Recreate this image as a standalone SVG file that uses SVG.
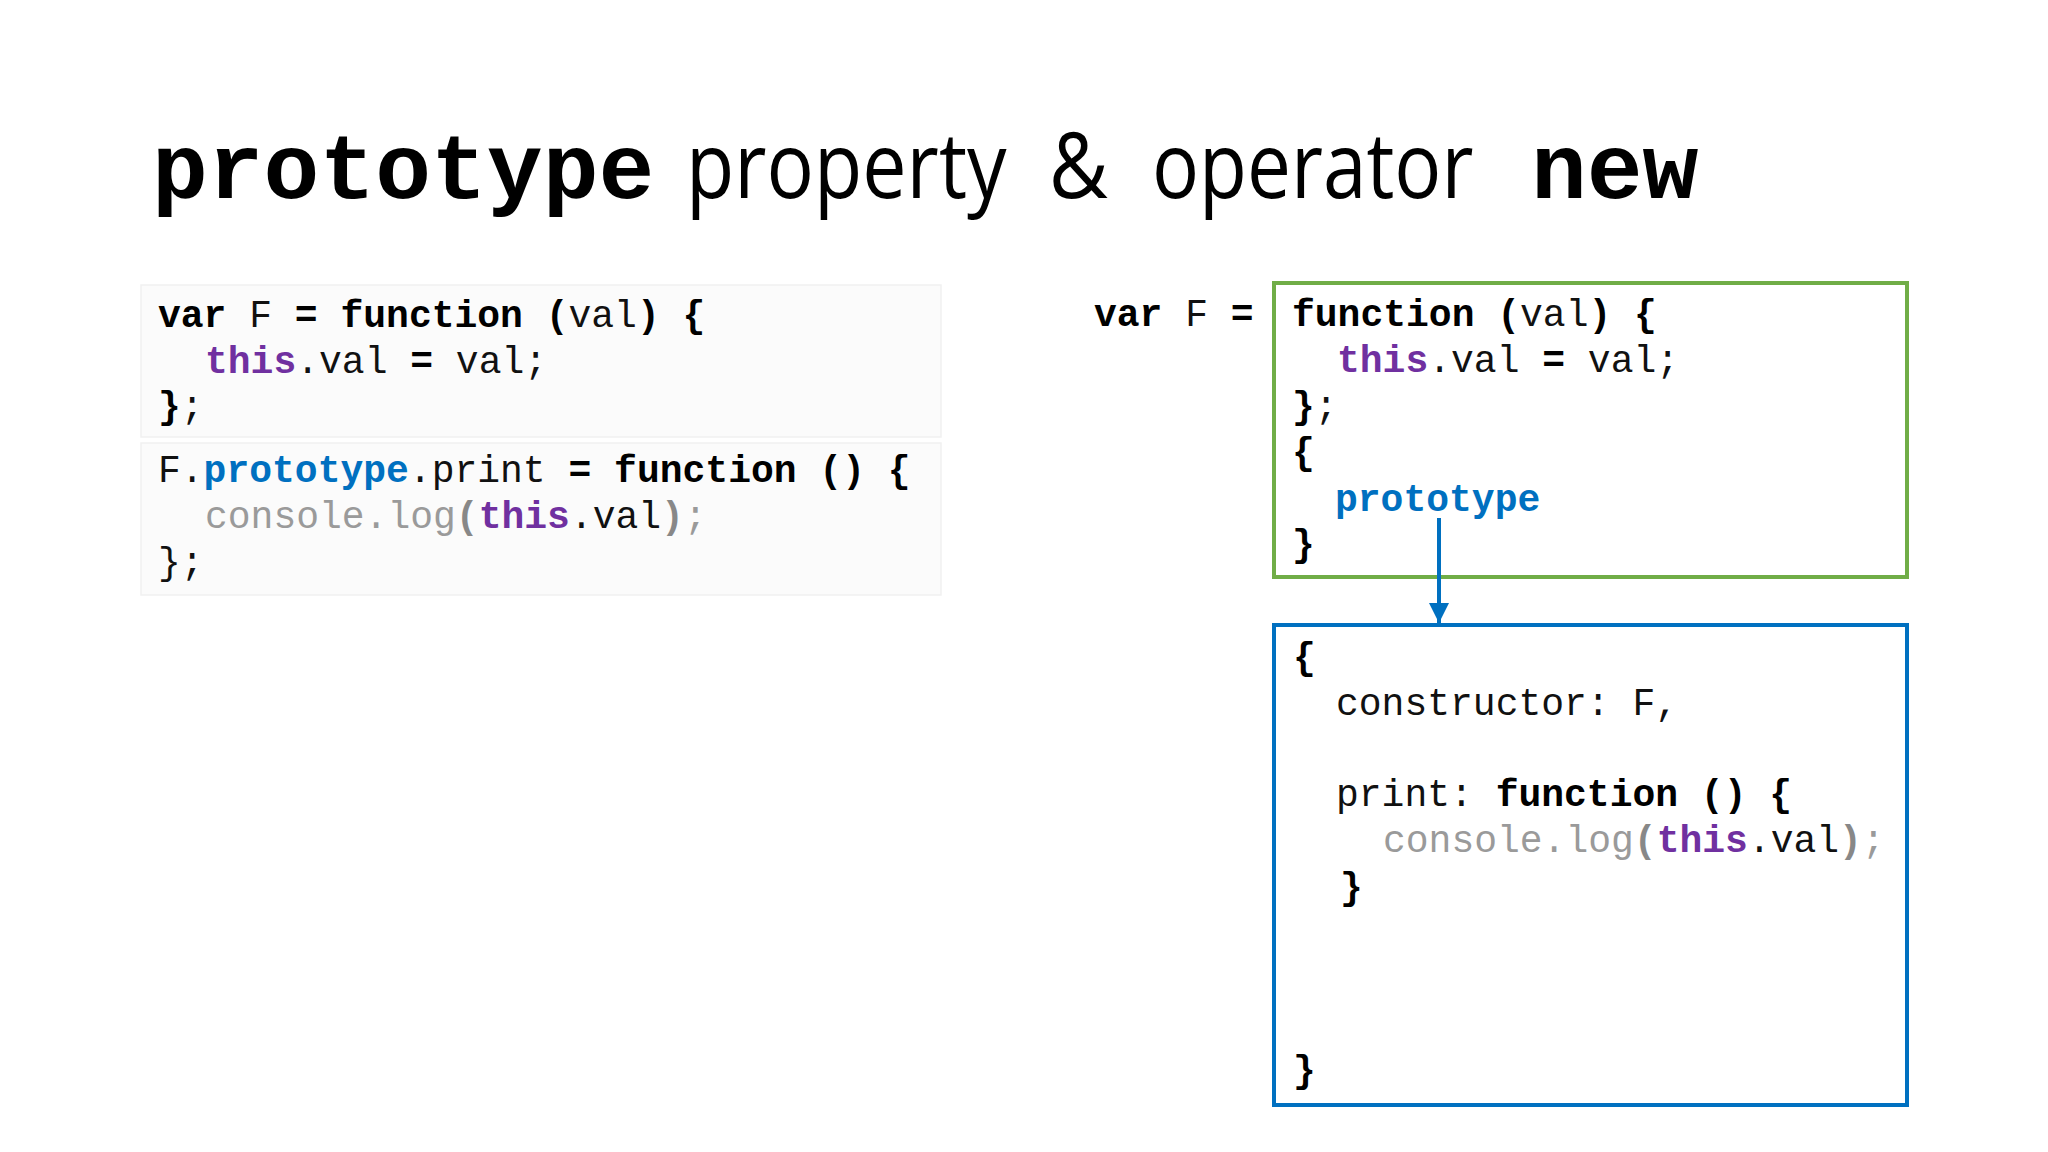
<svg xmlns="http://www.w3.org/2000/svg" width="2048" height="1152" viewBox="0 0 2048 1152">
  <style>
    .c{font-family:"Liberation Mono","Courier New",monospace;font-size:38px;fill:#111}
    .b{font-weight:bold;fill:#000}
    .t{font-weight:bold;fill:#7030A0}
    .p{font-weight:bold;fill:#0070C0}
    .g{fill:#9a9a9a}
    .gb{fill:#888;font-weight:bold}
    .tm{font-family:"Liberation Mono","Courier New",monospace;font-weight:bold;font-size:93px;fill:#000}
    .ts{font-family:"Open Sans","Noto Sans",sans-serif;font-size:92px;fill:#000}
    .panel{fill:#fbfbfb;stroke:#f1f1f1;stroke-width:1.5}
  </style>
  <defs>
    <marker id="arr" viewBox="0 0 10 10" refX="10" refY="5" markerWidth="5" markerHeight="5" orient="auto" markerUnits="strokeWidth">
      <path d="M0,0 L10,5 L0,10 z" fill="#0070C0"/>
    </marker>
  </defs>
  <rect width="2048" height="1152" fill="#ffffff"/>

  <g id="title">
    <text class="tm" x="152" y="198">prototype</text>
    <text class="ts" transform="translate(686,198) scale(0.858,1)" x="0" y="0">property</text>
    <text class="ts" transform="translate(1049,198) scale(0.88,1)" x="0" y="0">&amp;</text>
    <text class="ts" transform="translate(1152,198) scale(0.851,1)" x="0" y="0">operator</text>
    <text class="tm" x="1531" y="198">new</text>
  </g>

  <g id="left-code-1">
    <rect class="panel" x="141" y="285" width="800" height="152"/>
    <text class="c" x="158" y="327" xml:space="preserve"><tspan class="b">var</tspan> F <tspan class="b">=</tspan> <tspan class="b">function (</tspan>val<tspan class="b">) {</tspan></text>
    <text class="c" x="205" y="373" xml:space="preserve"><tspan class="t">this</tspan>.val <tspan class="b">=</tspan> val;</text>
    <text class="c" x="158" y="418" xml:space="preserve"><tspan class="b">}</tspan>;</text>
  </g>

  <g id="left-code-2">
    <rect class="panel" x="141" y="443" width="800" height="152"/>
    <text class="c" x="158" y="482" xml:space="preserve">F.<tspan class="p">prototype</tspan>.print <tspan class="b">=</tspan> <tspan class="b">function () {</tspan></text>
    <text class="c" x="205" y="528" xml:space="preserve"><tspan class="g">console.log</tspan><tspan class="gb">(</tspan><tspan class="t">this</tspan>.val<tspan class="gb">)</tspan><tspan class="g">;</tspan></text>
    <text class="c" x="158" y="574" xml:space="preserve">};</text>
  </g>

  <g id="var-label">
    <text class="c" x="1094" y="326" xml:space="preserve"><tspan class="b">var</tspan> F <tspan class="b">=</tspan></text>
  </g>

  <g id="function-box">
    <rect x="1274" y="283" width="633" height="294" fill="none" stroke="#70AD47" stroke-width="4"/>
    <text class="c" x="1292" y="326" xml:space="preserve"><tspan class="b">function (</tspan>val<tspan class="b">) {</tspan></text>
    <text class="c" x="1337" y="372" xml:space="preserve"><tspan class="t">this</tspan>.val <tspan class="b">=</tspan> val;</text>
    <text class="c" x="1292" y="418" xml:space="preserve"><tspan class="b">}</tspan>;</text>
    <text class="c b" x="1292" y="464">{</text>
    <text class="c p" x="1335" y="511">prototype</text>
    <text class="c b" x="1292" y="556">}</text>
  </g>

  <g id="prototype-box">
    <rect x="1274" y="625" width="633" height="480" fill="none" stroke="#0070C0" stroke-width="4"/>
    <text class="c b" x="1293" y="669">{</text>
    <text class="c" x="1336" y="715" xml:space="preserve">constructor: F,</text>
    <text class="c" x="1336" y="806" xml:space="preserve">print: <tspan class="b">function () {</tspan></text>
    <text class="c" x="1383" y="852" xml:space="preserve"><tspan class="g">console.log</tspan><tspan class="gb">(</tspan><tspan class="t">this</tspan>.val<tspan class="gb">)</tspan><tspan class="g">;</tspan></text>
    <text class="c b" x="1340" y="899">}</text>
    <text class="c b" x="1293" y="1082">}</text>
  </g>

  <g id="connectors">
    <line x1="1439" y1="518" x2="1439" y2="623" stroke="#0070C0" stroke-width="4" marker-end="url(#arr)"/>
  </g>
</svg>
